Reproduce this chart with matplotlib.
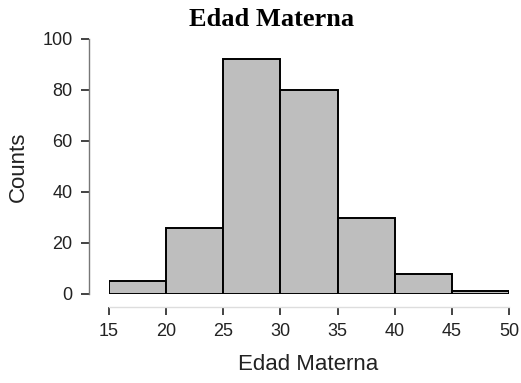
import matplotlib
matplotlib.use("Agg")
import matplotlib.pyplot as plt
import numpy as np

bin_edges = [15, 20, 25, 30, 35, 40, 45, 50]
counts = [5, 26, 92, 80, 30, 8, 1]
xticks = [15, 20, 25, 30, 35, 40, 45, 50]
yticks = [0, 20, 40, 60, 80, 100]

W, H = 521, 383
dpi = 100
fig = plt.figure(figsize=(W / dpi, H / dpi), dpi=dpi)
# axes in pixel coords: x 109..509, y(data 0) 294 .. (data 100) 39
left, right, top, bottom = 109, 509, 39, 294
ax = fig.add_axes([left / W, 1 - bottom / H, (right - left) / W, (bottom - top) / H])

ax.bar(bin_edges[:-1], counts, width=np.diff(bin_edges), align='edge',
       color='#bebebe', edgecolor='black', linewidth=1.4, zorder=3)
ax.set_xlim(15, 50)
ax.set_ylim(0, 100)
ax.set_xticks(xticks)
ax.set_yticks(yticks)

for s in ['top', 'right']:
    ax.spines[s].set_visible(False)
ax.spines['left'].set_position(('outward', 20 * 72 / dpi))
ax.spines['left'].set_color('#777777')
ax.spines['left'].set_linewidth(1.0)
ax.spines['bottom'].set_position(('outward', 12.5 * 72 / dpi))
ax.spines['bottom'].set_color('#dddddd')
ax.spines['bottom'].set_linewidth(1.0)

tl = 8 * 72 / dpi
ax.tick_params(axis='both', direction='out', length=tl, width=1.2, color='#222222',
               labelsize=13, labelcolor='#222222')
ax.tick_params(axis='x', pad=6)
ax.tick_params(axis='y', pad=6)
for lab in ax.get_xticklabels() + ax.get_yticklabels():
    lab.set_family('Liberation Sans')

ax.set_xlabel('Edad Materna', fontsize=16, family='Liberation Sans', color='#222222')
ax.set_ylabel('Counts', fontsize=16, family='Liberation Sans', color='#222222')
ax.xaxis.label.set_va('center')
ax.yaxis.label.set_va('center')
ax.xaxis.set_label_coords(0.499, (bottom - 365) / (bottom - top))
ax.yaxis.set_label_coords((18 - left) / (right - left), 0.5)
fig.text(272 / W, 1 - 20 / H, 'Edad Materna', ha='center', va='center',
         fontsize=19, fontweight='bold', family='Liberation Serif')

fig.savefig('out.png', dpi=dpi)
